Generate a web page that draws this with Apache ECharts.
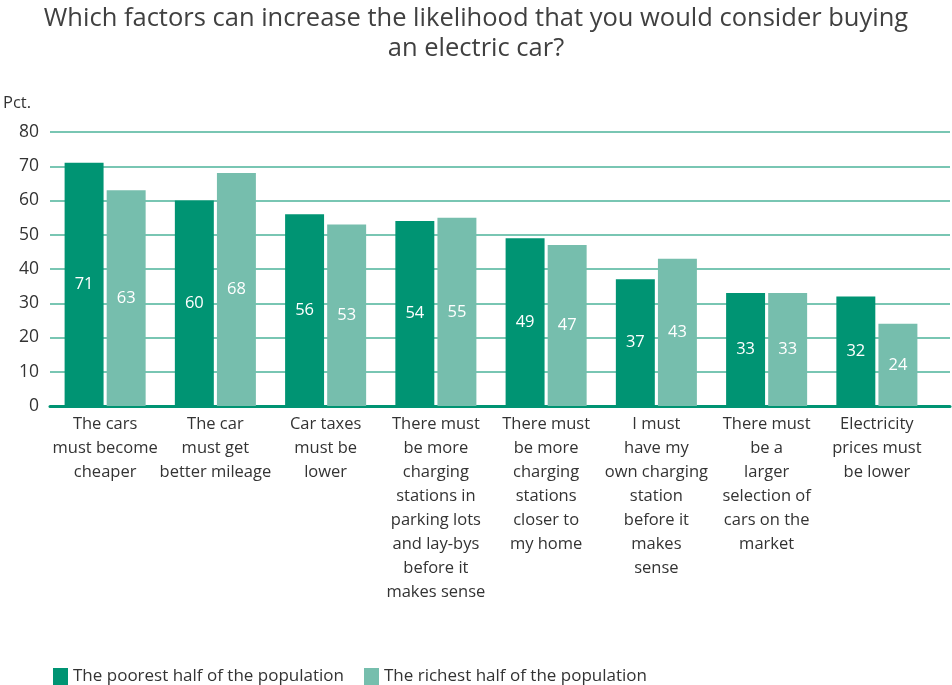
<!DOCTYPE html>
<html><head><meta charset="utf-8">
<script src="https://cdn.jsdelivr.net/npm/echarts@6/dist/echarts.min.js"></script>
<style>html,body{margin:0;padding:0;background:#fff}#c{width:952px;height:685px}</style>
</head><body><div id="c"></div>
<script>
const categories = [
  "The cars\nmust become\ncheaper",
  "The car\nmust get\nbetter mileage",
  "Car taxes\nmust be\nlower",
  "There must\nbe more\ncharging\nstations in\nparking lots\nand lay-bys\nbefore it\nmakes sense",
  "There must\nbe more\ncharging\nstations\ncloser to\nmy home",
  "I must\nhave my\nown charging\nstation\nbefore it\nmakes\nsense",
  "There must\nbe a\nlarger\nselection of\ncars on the\nmarket",
  "Electricity\nprices must\nbe lower"
];
const poorest = [71, 60, 56, 54, 49, 37, 33, 32];
const richest = [63, 68, 53, 55, 47, 43, 33, 24];
const seriesNames = ["The poorest half of the population", "The richest half of the population"];
const FONT = "Open Sans";
const chart = echarts.init(document.getElementById('c'));
chart.setOption({
  animation: false,
  textStyle: {fontFamily: FONT},
  title: {
    text: "Which factors can increase the likelihood that you would consider buying\nan electric car?",
    left: 'center', top: -1,
    textStyle: {fontFamily: FONT, fontSize: 25.5, fontWeight: 'normal', color: '#404040', lineHeight: 30}
  },
  legend: {
    left: 48, bottom: -5, itemWidth: 15, itemHeight: 17, itemGap: 20,
    icon: 'rect',
    textStyle: {fontFamily: FONT, fontSize: 17, color: '#333'}
  },
  grid: [
    {left: 50, right: 20, top: 132, bottom: 279},
    {left: 50, right: 2, top: 132, bottom: 279}
  ],
  xAxis: [
    {
      type: 'category', data: categories, gridIndex: 0,
      axisTick: {show: false},
      axisLine: {show: false},
      axisLabel: {interval: 0, fontFamily: FONT, fontSize: 16.5, color: '#333', lineHeight: 24, margin: 6}
    },
    {
      type: 'value', gridIndex: 1, min: 0, max: 1, show: true,
      axisLabel: {show: false}, axisTick: {show: false}, splitLine: {show: false},
      axisLine: {show: true, lineStyle: {color: '#009473', width: 3}}
    }
  ],
  yAxis: [
    {
      type: 'value', gridIndex: 0, min: 0, max: 80, interval: 10,
      name: 'Pct.', nameLocation: 'end', nameGap: 20,
      nameTextStyle: {fontFamily: FONT, fontSize: 16.5, color: '#333', align: 'left', padding: [0, 0, 0, -47]},
      axisLabel: {fontFamily: FONT, fontSize: 17.5, color: '#333', margin: 11},
      splitLine: {show: false}
    },
    {
      type: 'value', gridIndex: 1, min: 0, max: 80, interval: 10,
      axisLabel: {show: false}, axisLine: {show: false}, axisTick: {show: false},
      splitLine: {lineStyle: {color: '#4db39a', width: 1.5}}
    }
  ],
  series: [
    {name: seriesNames[0], type: 'bar', data: poorest, barGap: '8%', barCategoryGap: '26.5%',
     xAxisIndex: 0, yAxisIndex: 0, z: 3,
     itemStyle: {color: '#009473'},
     label: {show: true, position: 'inside', color: '#fff', fontFamily: FONT, fontSize: 16.5}},
    {name: seriesNames[1], type: 'bar', data: richest,
     xAxisIndex: 0, yAxisIndex: 0, z: 3,
     itemStyle: {color: '#76bead'},
     label: {show: true, position: 'inside', color: '#fff', fontFamily: FONT, fontSize: 16.5}}
  ]
});
</script></body></html>
